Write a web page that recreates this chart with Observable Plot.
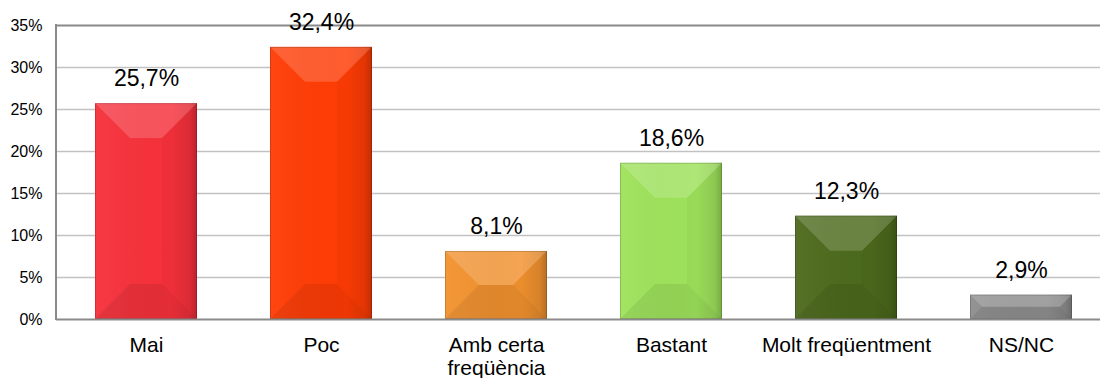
<!DOCTYPE html>
<html><head><meta charset="utf-8">
<script src="https://cdn.jsdelivr.net/npm/d3@7"></script>
<script src="https://cdn.jsdelivr.net/npm/@observablehq/plot@0.6"></script>
<style>html,body{margin:0;padding:0;background:#fff;overflow:hidden}</style>
</head><body><div id="chart"></div>
<script>
const categories = ["Mai", "Poc", "Amb certa\nfreqüència", "Bastant", "Molt freqüentment", "NS/NC"];
const values = [25.7, 32.4, 8.1, 18.6, 12.3, 2.9];
const valueLabels = ["25,7%", "32,4%", "8,1%", "18,6%", "12,3%", "2,9%"];
const barColors = ["#f6313b", "#ff3c05", "#f2922f", "#9ee25b", "#4c6a1c", "#8e8e8e"];
const yTicks = [0, 5, 10, 15, 20, 25, 30, 35];
const yTickLabels = ["0%", "5%", "10%", "15%", "20%", "25%", "30%", "35%"];

const data = categories.map((c, i) => ({category: c, value: values[i], label: valueLabels[i], color: barColors[i]}));

function bandwidthOf(scales) {
  const s = scales.x;
  if (s && typeof s.bandwidth === "function") return s.bandwidth();
  if (s && typeof s.bandwidth === "number") return s.bandwidth;
  if (scales.scales && scales.scales.x && typeof scales.scales.x.bandwidth === "number") return scales.scales.x.bandwidth;
  return 102;
}

function bevels(index, scales, vals, dimensions) {
  const g = d3.create("svg:g");
  const defs = g.append("defs");
  const grad = defs.append("linearGradient").attr("id", "sideShade").attr("x1", 0).attr("x2", 1).attr("y1", 0).attr("y2", 0);
  grad.append("stop").attr("offset", "0").attr("stop-color", "#fff").attr("stop-opacity", 0.05);
  grad.append("stop").attr("offset", "0.75").attr("stop-color", "#000").attr("stop-opacity", 0.0);
  grad.append("stop").attr("offset", "0.93").attr("stop-color", "#000").attr("stop-opacity", 0.08);
  grad.append("stop").attr("offset", "1").attr("stop-color", "#000").attr("stop-opacity", 0.22);
  const bw = bandwidthOf(scales);
  const y1 = scales.y(0);
  for (const d of data) {
    const x0 = scales.x(d.category);
    const y0 = scales.y(d.value);
    const h = y1 - y0;
    const b = Math.min(35, h / 2, bw / 2);
    const pts = (arr) => arr.map(p => p.join(",")).join(" ");
    g.append("rect").attr("x", x0).attr("y", y0).attr("width", bw).attr("height", h).attr("fill", "url(#sideShade)");
    g.append("polygon").attr("points", pts([[x0, y0], [x0 + bw, y0], [x0 + bw - b, y0 + b], [x0 + b, y0 + b]]))
      .attr("fill", "#fff").attr("fill-opacity", 0.17);
    g.append("polygon").attr("points", pts([[x0, y1], [x0 + bw, y1], [x0 + bw - b, y1 - b], [x0 + b, y1 - b]]))
      .attr("fill", "#000").attr("fill-opacity", 0.07);
    g.append("polygon").attr("points", pts([[x0 + bw, y0], [x0 + bw, y1], [x0 + bw - b, y1 - b], [x0 + bw - b, y0 + b]]))
      .attr("fill", "#000").attr("fill-opacity", 0.03);
    g.append("rect").attr("x", x0 + 0.5).attr("y", y0 + 0.5).attr("width", bw - 1).attr("height", h - 1)
      .attr("fill", "none").attr("stroke", "#000").attr("stroke-opacity", 0.16);
  }
  g.append("line").attr("x1", dimensions.marginLeft).attr("x2", dimensions.marginLeft)
    .attr("y1", scales.y(0) + 1).attr("y2", scales.y(35) - 1).attr("stroke", "#8a8a8a").attr("stroke-width", 2);
  return g.node();
}

const chart = Plot.plot({
  width: 1100,
  height: 378,
  marginLeft: 56,
  marginRight: 0,
  marginTop: 25,
  marginBottom: 59,
  style: {fontFamily: "'Liberation Sans', Arial, sans-serif", background: "#fff", overflow: "visible"},
  x: {domain: categories, range: [56, 1110], paddingInner: 0.42, paddingOuter: 0.21, axis: null},
  y: {domain: [0, 35], axis: null},
  marks: [
    Plot.ruleY(yTicks.slice(1, -1), {stroke: "#c2c2c2", strokeWidth: 1.5}),
    Plot.barY(data, {x: "category", y: "value", fill: "color"}),
    bevels,
    Plot.ruleY([35], {stroke: "#8a8a8a", strokeWidth: 2}),
    Plot.ruleY([0], {stroke: "#8a8a8a", strokeWidth: 2}),
    Plot.text(data, {x: "category", y: "value", text: "label", dy: -24.5, fontSize: 23, fill: "#000"}),
    Plot.text(data, {x: "category", text: "category", frameAnchor: "bottom", lineAnchor: "top", dy: 17, fontSize: 21, lineHeight: 1.07, fill: "#000"}),
    Plot.text(yTicks, {y: d => d, text: (d, i) => yTickLabels[i], frameAnchor: "left", textAnchor: "end", dx: -14, fontSize: 16, fill: "#000"})
  ]
});
document.getElementById("chart").appendChild(chart);
</script>
</body></html>
